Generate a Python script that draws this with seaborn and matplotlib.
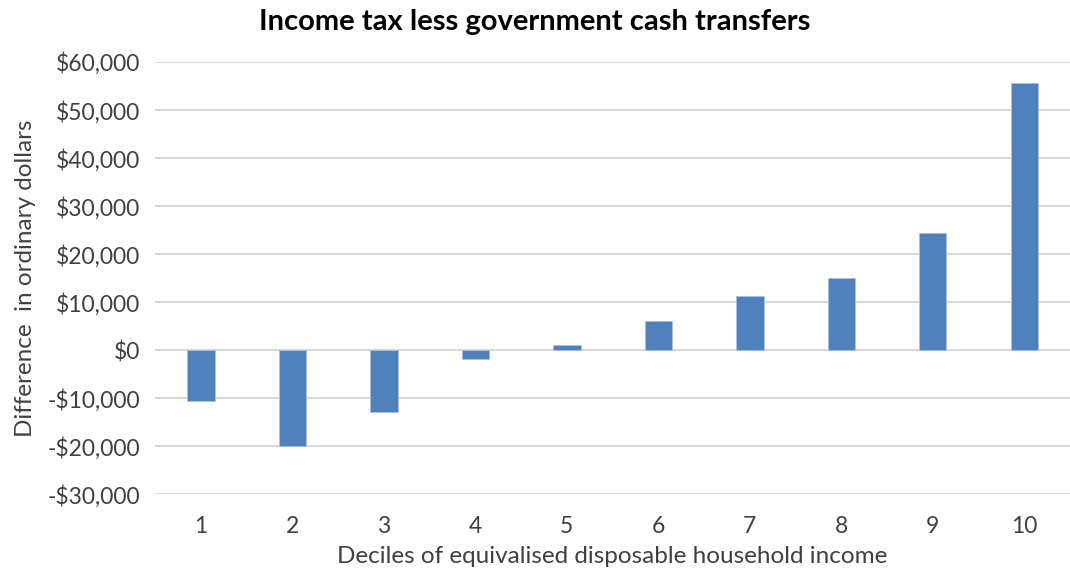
import pandas as pd
import seaborn as sns
import matplotlib.pyplot as plt
from matplotlib.ticker import FuncFormatter

deciles = ["1", "2", "3", "4", "5", "6", "7", "8", "9", "10"]
difference = [-10600, -20000, -12800, -1900, 1000, 6000, 11300, 15000, 24400, 55600]

df = pd.DataFrame({"Decile": deciles, "Difference": difference})

sns.set_style("white")
plt.rcParams["font.family"] = ["Lato", "DejaVu Sans"]

fig = plt.figure(figsize=(10.7, 5.74), dpi=100)
ax = fig.add_axes([0.145, 0.139, 0.855, 0.753])

sns.barplot(data=df, x="Decile", y="Difference", color="#4f81bd",
            width=0.3, saturation=1, edgecolor="#a9c0df", linewidth=0.6,
            zorder=3, ax=ax)

ax.set_ylim(-30000, 60000)
ax.set_yticks(range(-30000, 60001, 10000))


def dollars(v, pos):
    v = int(v)
    if v < 0:
        return "-${:,}".format(-v)
    return "${:,}".format(v)


ax.yaxis.set_major_formatter(FuncFormatter(dollars))
ax.grid(axis="y", color="#d9d9d9", linewidth=1.5, zorder=0)
for s in ax.spines.values():
    s.set_visible(False)
ax.tick_params(axis="both", length=0, labelsize=16.5, colors="#404040")
ax.tick_params(axis="x", pad=16)
ax.tick_params(axis="y", pad=11)

ax.set_xlabel("Deciles of equivalised disposable household income",
              fontsize=17.5, color="#404040", labelpad=6)
ax.set_ylabel("Difference  in ordinary dollars", fontsize=17.5,
              color="#404040", labelpad=8)
fig.text(0.5, 0.962, "Income tax less government cash transfers",
         ha="center", va="center", fontsize=21, fontweight="bold",
         color="#000000")

fig.savefig("out.png", dpi=100)
